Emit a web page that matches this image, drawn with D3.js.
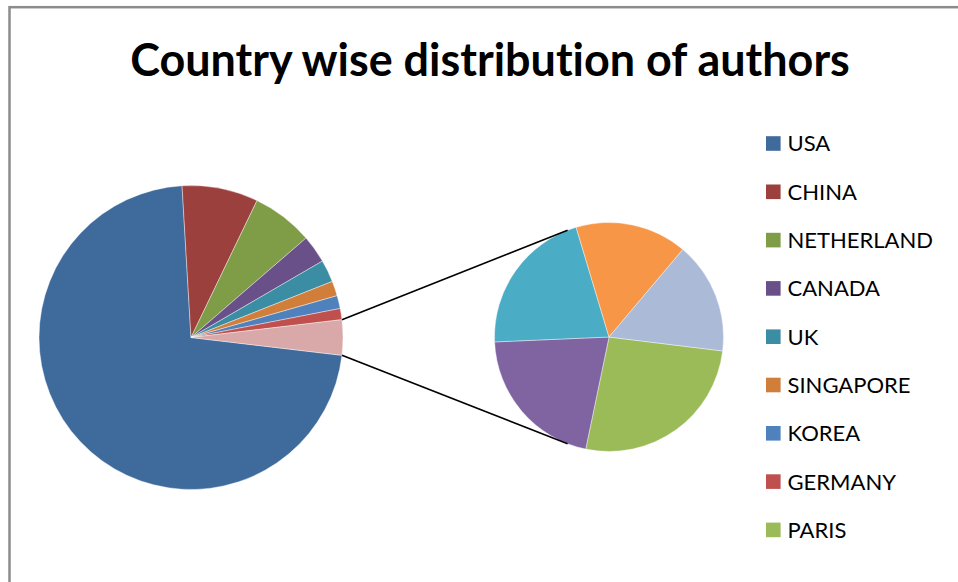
<!DOCTYPE html>
<html>
<head>
<meta charset="utf-8">
<script src="https://cdn.jsdelivr.net/npm/d3@7"></script>
<style>
  body { margin: 0; background: #fff; }
  svg { display: block; }
  text { font-variant-ligatures: none; }
</style>
</head>
<body>
<script>
// pie of pie: main countries + one "other" slice split into a second pie
var countries = ["USA", "CHINA", "NETHERLAND", "CANADA", "UK", "SINGAPORE", "KOREA", "GERMANY"];
var counts = [366, 41, 33, 15, 12, 8, 7, 6];
var mainColors = ["#3e6a9c", "#9c403d", "#7f9c47", "#695089", "#3a8da3", "#d17e3b", "#4f81bd", "#c0504d"];
var otherColor = "#d9a8a8";

// second pie (the split-off part), first one is PARIS
var secondNames = ["PARIS"];
var secondCounts = [5, 4, 4, 3, 3];
var secondColors = ["#9bbb59", "#8064a2", "#4bacc6", "#f79646", "#aabad7"];

var legendNames = countries.concat(secondNames);
var legendColors = mainColors.concat(secondColors.slice(0, 1));

var width = 958, height = 582;
var rad = Math.PI / 180;

var svg = d3.select("body").append("svg")
    .attr("width", width)
    .attr("height", height);

// chart frame, right and bottom edges run off the picture
svg.append("rect")
    .attr("x", 9.5)
    .attr("y", 7.2)
    .attr("width", 1000)
    .attr("height", 700)
    .attr("fill", "none")
    .attr("stroke", "#8c8c8c")
    .attr("stroke-width", 2.5);

var title = svg.append("text")
    .attr("x", 490)
    .attr("y", 76)
    .attr("text-anchor", "middle")
    .style("font-family", "Lato, 'Open Sans', sans-serif")
    .style("font-weight", "bold")
    .style("font-size", "46px")
    .text("Country wise distribution of authors");
// fit title to the same width as the picture
var tw = title.node().getComputedTextLength();
title.style("font-size", (46 * 720 / tw) + "px");

// main pie data: countries + other
var otherTotal = d3.sum(secondCounts);
var mainData = counts.map(function(d, i) { return {name: countries[i], value: d, color: mainColors[i]}; });
mainData.push({name: "Other", value: otherTotal, color: otherColor});

var total = d3.sum(mainData, function(d) { return d.value; });
var otherDeg = otherTotal / total * 360;
// other slice is centered at 3 o'clock, first slice starts right after it
var startDeg = 90 + otherDeg / 2;

var mainCx = 191, mainCy = 337.5, mainR = 152;
var secCx = 609, secCy = 337, secR = 114.5;

var mainPie = d3.pie()
    .sort(null)
    .value(function(d) { return d.value; })
    .startAngle(startDeg * rad)
    .endAngle(startDeg * rad + 2 * Math.PI);

var mainArc = d3.arc().innerRadius(0).outerRadius(mainR);

svg.append("g")
    .attr("transform", "translate(" + mainCx + "," + mainCy + ")")
    .selectAll("path")
    .data(mainPie(mainData))
  .enter().append("path")
    .attr("d", mainArc)
    .attr("fill", function(d) { return d.data.color; })
    .attr("stroke", "#ffffff")
    .attr("stroke-opacity", 0.5)
    .attr("stroke-width", 0.8);

var secStart = 97;
var secPie = d3.pie()
    .sort(null)
    .startAngle(secStart * rad)
    .endAngle(secStart * rad + 2 * Math.PI);

var secArc = d3.arc().innerRadius(0).outerRadius(secR);

svg.append("g")
    .attr("transform", "translate(" + secCx + "," + secCy + ")")
    .selectAll("path")
    .data(secPie(secondCounts))
  .enter().append("path")
    .attr("d", secArc)
    .attr("fill", function(d, i) { return secondColors[i]; })
    .attr("stroke", "#ffffff")
    .attr("stroke-opacity", 0.5)
    .attr("stroke-width", 0.8);

// connector lines from the other slice edges to the second pie
var otherArc = mainPie(mainData)[mainData.length - 1];
var edgeA = [otherArc.startAngle, otherArc.endAngle];
var touch = [-21.2 * rad, (180 + 21.2) * rad];
edgeA.forEach(function(a, i) {
  svg.append("line")
      .attr("x1", mainCx + mainR * Math.sin(a))
      .attr("y1", mainCy - mainR * Math.cos(a))
      .attr("x2", secCx + secR * Math.sin(touch[i]))
      .attr("y2", secCy - secR * Math.cos(touch[i]))
      .attr("stroke", "#000")
      .attr("stroke-width", 1.6);
});

// legend
var legend = svg.selectAll(".legend")
    .data(legendNames)
  .enter().append("g")
    .attr("class", "legend")
    .attr("transform", function(d, i) { return "translate(766," + (143.5 + i * 48.3) + ")"; });

legend.append("rect")
    .attr("x", 0)
    .attr("y", -7.3)
    .attr("width", 14.6)
    .attr("height", 14.6)
    .attr("fill", function(d, i) { return legendColors[i]; });

legend.append("text")
    .attr("x", 21.5)
    .attr("y", 0)
    .attr("dy", "0.36em")
    .style("font-family", "Lato, 'Open Sans', sans-serif")
    .style("font-size", "22px")
    .attr("fill", "#000")
    .text(function(d) { return d; });
</script>
</body>
</html>
